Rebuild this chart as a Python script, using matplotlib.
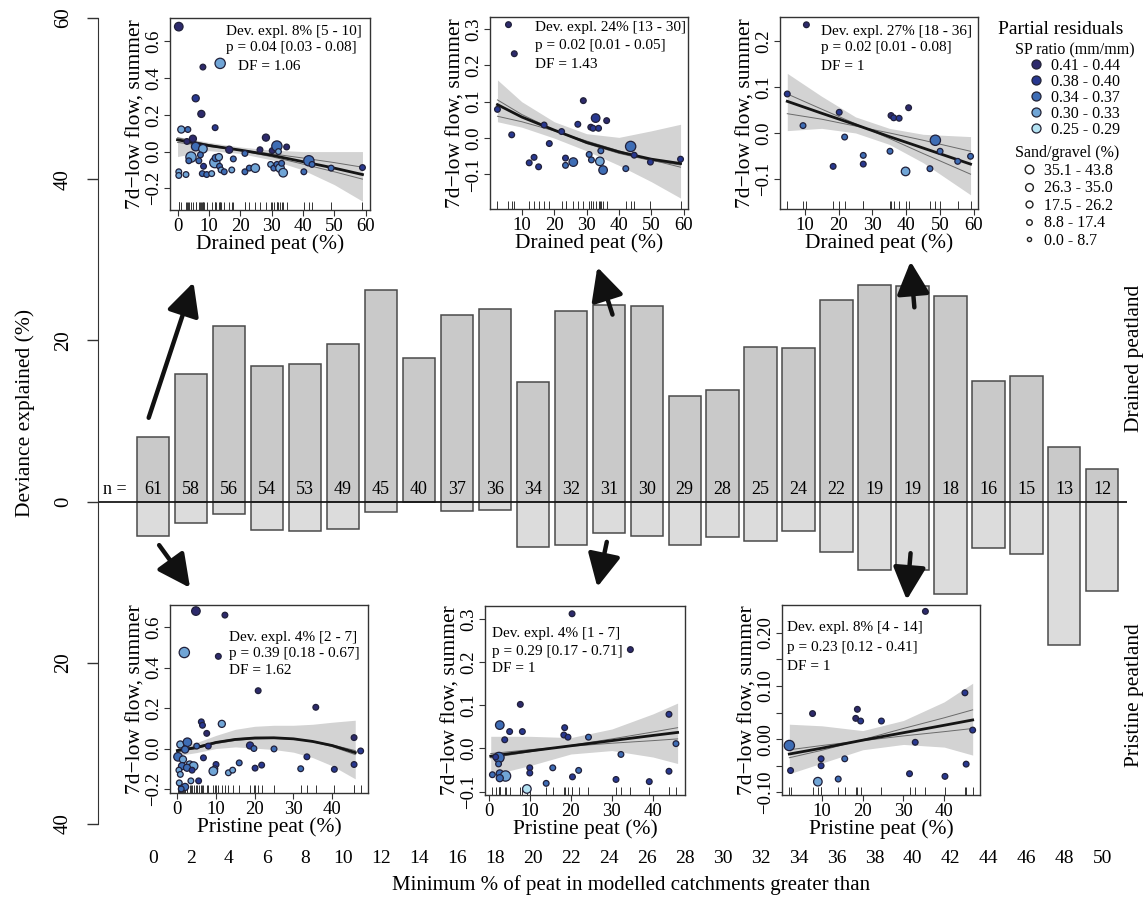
import matplotlib
matplotlib.use("Agg")
import matplotlib.pyplot as plt
from matplotlib.lines import Line2D

plt.rcParams['font.family'] = ['Liberation Serif', 'DejaVu Serif']

W, H = 1148, 898

# ---- main bar chart -------------------------------------------------------
thresholds = list(range(0, 52, 2))
n_catch = [61, 58, 56, 54, 53, 49, 45, 40, 37, 36, 34, 32, 31, 30, 29, 28,
           25, 24, 22, 19, 19, 18, 16, 15, 13, 12]
dev_drained = [8.0, 15.8, 21.8, 16.8, 17.1, 19.6, 26.2, 17.8, 23.2, 23.9, 14.9,
               23.7, 24.4, 24.3, 13.1, 13.9, 19.2, 19.1, 25.0, 26.9, 26.8, 25.5,
               15.0, 15.6, 6.8, 4.0]
dev_pristine = [4.3, 2.7, 1.6, 3.5, 3.7, 3.4, 1.3, 0.1, 1.2, 1.1, 5.6, 5.4, 3.9,
                4.3, 5.4, 4.4, 4.9, 3.7, 6.2, 8.5, 8.5, 11.5, 5.7, 6.5, 17.8, 11.1]
ytick_vals = [-40, -20, 0, 20, 40, 60]
ytick_text = ['40', '20', '0', '20', '40', '60']

# legend classes
sp_labels = ['0.41 - 0.44', '0.38 - 0.40', '0.34 - 0.37', '0.30 - 0.33', '0.25 - 0.29']
sp_colors = ['#2d2a6c', '#283890', '#3e6db5', '#70a5d6', '#b3e2f2']
sand_labels = ['35.1 - 43.8', '26.3 - 35.0', '17.5 - 26.2', '8.8 - 17.4', '0.0 - 8.7']
sand_ms = [6.2, 5.6, 5.0, 4.0, 3.0]
size_area = [10, 17, 26, 38, 55]   # scatter area per sand/gravel class (small -> large)

# ---- top-left: drained, all catchments (n = 61) ---------------------------
t1_x = [0.4, 8.1, 13.6, 5.8, 7.6, 12.0, 1.2, 3.3, 3.0, 4.9, 5.8, 8.1, 7.3, 4.3,
        3.6, 6.8, 8.3, 0.4, 0.4, 2.7, 7.9, 9.3, 10.9, 11.9, 12.2, 13.2, 13.4,
        13.9, 14.9, 16.5, 17.8, 17.3, 21.5, 21.5, 22.9, 24.8, 26.3, 28.2, 29.7,
        30.2, 30.7, 31.7, 32.2, 31.7, 32.7, 33.7, 34.8, 33.2, 40.3, 41.9, 42.9,
        49.0, 59.0]
t1_y = [0.68, 0.46, 0.48, 0.29, 0.205, 0.13, 0.12, 0.12, 0.055, 0.07, 0.027,
        0.015, -0.018, -0.03, -0.05, -0.05, -0.08, -0.11, -0.13, -0.125, -0.12,
        -0.125, -0.12, -0.06, -0.035, -0.03, -0.08, -0.10, -0.11, 0.01, -0.04,
        -0.10, -0.01, -0.11, -0.09, -0.09, 0.01, 0.076, -0.07, 0.005, -0.09,
        0.03, 0.0, -0.07, -0.09, -0.115, 0.025, -0.064, -0.11, -0.05, -0.07,
        -0.09, -0.087]
t1_col = [0, 0, 3, 1, 0, 1, 3, 2, 0, 0, 2, 3, 2, 3, 2, 2, 1, 3, 3, 3, 2, 2, 3, 3,
          2, 3, 2, 3, 2, 0, 2, 3, 2, 2, 2, 3, 0, 0, 3, 0, 2, 2, 3, 2, 3, 3, 0, 2,
          2, 2, 2, 2, 1]
t1_size = [3, 1, 4, 2, 2, 1, 2, 1, 1, 2, 3, 3, 1, 4, 1, 1, 1, 1, 1, 1, 1, 1, 1, 4,
           2, 2, 1, 1, 1, 2, 1, 1, 1, 1, 1, 3, 1, 2, 1, 1, 1, 4, 1, 1, 3, 3, 1, 1,
           1, 4, 1, 1, 1]
t1_fx = [0, 10, 20, 30, 40, 50, 59]
t1_fit = [0.064, 0.033, 0.008, -0.02, -0.055, -0.09, -0.125]
t1_lo = [-0.027, 0.005, -0.01, -0.045, -0.10, -0.18, -0.27]
t1_hi = [0.082, 0.05, 0.025, 0.008, 0.0, 0.0, 0.0]
t1_alt_a = [0.05, 0.028, 0.008, -0.012, -0.035, -0.06, -0.085]
t1_alt_b = [0.075, 0.038, 0.006, -0.028, -0.068, -0.11, -0.15]

# ---- top-middle: drained, peat > 24 % (n = 31) -----------------------------
t2_x = [5.9, 7.7, 2.5, 6.9, 16.9, 18.5, 12.3, 13.8, 15.2, 22.3, 23.5, 23.5, 25.9,
        27.3, 29.0, 30.8, 31.5, 31.3, 32.0, 32.8, 33.7, 34.4, 34.1, 35.1, 36.2,
        42.1, 43.6, 44.7, 49.7, 59.0]
t2_y = [0.312, 0.232, 0.079, 0.009, 0.036, -0.015, -0.068, -0.053, -0.079, 0.018,
        -0.055, -0.075, -0.066, 0.038, 0.103, -0.045, -0.06, 0.03, 0.027, 0.055,
        0.027, -0.035, -0.064, -0.088, 0.048, -0.084, -0.023, -0.047, -0.066,
        -0.058]
t2_col = [0, 0, 1, 1, 1, 1, 1, 1, 1, 1, 1, 2, 2, 1, 0, 2, 2, 0, 1, 1, 1, 2, 3, 2,
          0, 2, 2, 1, 1, 1]
t2_size = [1, 1, 1, 1, 1, 1, 1, 1, 1, 1, 1, 1, 3, 1, 1, 1, 1, 1, 1, 3, 1, 1, 3, 3,
           1, 1, 4, 1, 1, 1]
t2_fx = [2.5, 10, 20, 30, 40, 50, 59]
t2_fit = [0.092, 0.058, 0.022, -0.012, -0.038, -0.058, -0.07]
t2_lo = [0.045, 0.03, 0.0, -0.035, -0.075, -0.12, -0.165]
t2_hi = [0.16, 0.10, 0.045, 0.012, 0.002, 0.02, 0.038]
t2_alt_a = [0.105, 0.065, 0.022, -0.015, -0.042, -0.062, -0.074]
t2_alt_b = [0.06, 0.045, 0.02, -0.008, -0.035, -0.06, -0.08]

# ---- top-right: drained, peat > 40 % (n = 19) ------------------------------
t3_x = [10.5, 4.85, 9.5, 20.2, 21.8, 18.4, 27.3, 27.3, 35.2, 35.5, 36.3, 37.9,
        40.7, 39.8, 47.0, 48.6, 50.0, 55.2, 59.0]
t3_y = [0.236, 0.085, 0.016, 0.045, -0.009, -0.073, -0.049, -0.068, -0.04, 0.038,
        0.033, 0.032, 0.055, -0.084, -0.078, -0.016, -0.04, -0.062, -0.051]
t3_col = [0, 1, 2, 1, 2, 1, 2, 1, 2, 0, 1, 1, 0, 3, 2, 2, 2, 2, 2]
t3_size = [1, 1, 1, 1, 1, 1, 1, 1, 1, 1, 1, 1, 1, 3, 1, 4, 1, 1, 1]
t3_fx = [4.85, 15, 25, 35, 45, 59]
t3_fit = [0.069, 0.043, 0.018, -0.008, -0.033, -0.068]
t3_lo = [0.005, 0.01, 0.0, -0.025, -0.065, -0.135]
t3_hi = [0.13, 0.08, 0.035, 0.01, -0.003, -0.008]
t3_alt_a = [0.085, 0.052, 0.02, -0.012, -0.045, -0.09]
t3_alt_b = [0.042, 0.03, 0.015, 0.0, -0.016, -0.04]

# ---- bottom-left: pristine, all catchments ---------------------------------
b1_x = [4.8, 12.3, 1.8, 10.6, 20.9, 35.8, 6.2, 11.5, 6.5, 7.6, 0.77, 2.6, 2.0, 5.0,
        8.0, 0.17, 1.45, 3.2, 4.2, 1.2, 0.4, 0.77, 2.5, 3.8, 6.75, 10.0, 9.7, 9.3,
        13.2, 14.3, 16.0, 18.8, 19.8, 20.1, 21.8, 25.0, 31.9, 33.5, 40.6, 45.7,
        47.4, 45.7, 0.5, 2.0, 3.5, 1.0, 5.5]
b1_y = [0.68, 0.66, 0.475, 0.456, 0.286, 0.204, 0.132, 0.122, 0.115, 0.075, 0.02,
        0.031, -0.005, 0.012, 0.012, -0.041, -0.054, -0.079, -0.087, -0.087,
        -0.107, -0.128, -0.095, -0.107, -0.046, -0.079, -0.10, -0.112, -0.12,
        -0.107, -0.071, 0.015, 0.0, -0.097, -0.082, -0.002, -0.10, -0.041, -0.103,
        0.054, -0.012, -0.079, -0.17, -0.19, -0.16, -0.20, -0.16]
b1_col = [0, 0, 3, 0, 0, 0, 1, 3, 1, 0, 3, 2, 2, 2, 1, 2, 3, 3, 3, 2, 3, 3, 2, 1,
          1, 1, 2, 3, 3, 3, 2, 1, 2, 1, 1, 2, 2, 1, 1, 0, 1, 1, 3, 2, 3, 2, 1]
b1_size = [3, 1, 4, 1, 1, 1, 1, 2, 1, 1, 2, 3, 2, 1, 1, 3, 2, 2, 3, 2, 1, 1, 2, 1,
           1, 1, 1, 3, 1, 1, 1, 2, 1, 1, 1, 1, 1, 1, 1, 1, 1, 1, 1, 2, 1, 1, 1]
b1_fx = [0, 5, 10, 15, 20, 25, 30, 35, 40, 46]
b1_fit = [-0.01, 0.005, 0.03, 0.045, 0.052, 0.053, 0.048, 0.035, 0.015, -0.02]
b1_lo = [-0.035, -0.02, 0.0, 0.008, 0.002, -0.005, -0.018, -0.045, -0.085, -0.15]
b1_hi = [0.015, 0.03, 0.065, 0.095, 0.11, 0.115, 0.115, 0.12, 0.13, 0.14]
b1_alt_a = [-0.015, 0.0, 0.025, 0.04, 0.048, 0.05, 0.046, 0.035, 0.018, -0.01]
b1_alt_b = [-0.005, 0.01, 0.033, 0.048, 0.055, 0.055, 0.048, 0.033, 0.01, -0.03]

# ---- bottom-middle: pristine, peat > 24 % ----------------------------------
b2_x = [20.3, 34.5, 7.7, 43.9, 2.7, 5.1, 3.9, 8.2, 18.5, 18.3, 19.3, 24.3, 45.6,
        2.5, 1.7, 2.4, 32.2, 10.0, 10.0, 15.6, 21.9, 43.9, 0.9, 2.7, 4.1, 2.7,
        20.4, 31.0, 39.1, 9.3, 14.0]
b2_y = [0.312, 0.229, 0.102, 0.079, 0.054, 0.039, 0.02, 0.039, 0.048, 0.031, 0.026,
        0.026, 0.011, -0.021, -0.02, -0.036, -0.014, -0.045, -0.057, -0.045,
        -0.051, -0.053, -0.061, -0.058, -0.064, -0.069, -0.066, -0.072, -0.077,
        -0.094, -0.081]
b2_col = [0, 0, 0, 1, 2, 1, 1, 1, 1, 1, 1, 2, 2, 2, 1, 2, 2, 1, 1, 2, 2, 1, 2, 2,
          3, 2, 1, 1, 1, 4, 2]
b2_size = [1, 1, 1, 1, 3, 1, 1, 1, 1, 1, 1, 1, 1, 4, 1, 1, 1, 1, 1, 1, 1, 1, 1, 2,
           4, 2, 1, 1, 1, 3, 1]
b2_fx = [0.5, 10, 20, 30, 40, 46]
b2_fit = [-0.018, -0.006, 0.006, 0.018, 0.030, 0.037]
b2_lo = [-0.062, -0.04, -0.013, -0.005, -0.02, -0.035]
b2_hi = [0.028, 0.028, 0.025, 0.045, 0.08, 0.105]
b2_alt_a = [-0.022, -0.008, 0.007, 0.022, 0.038, 0.048]
b2_alt_b = [-0.012, -0.003, 0.005, 0.012, 0.018, 0.022]

# ---- bottom-right: pristine, peat > 40 % -----------------------------------
b3_x = [35.4, 7.7, 18.7, 18.3, 19.5, 24.6, 2.0, 32.9, 9.8, 9.8, 15.6, 2.3, 9.0,
        14.0, 31.5, 40.2, 45.1, 47.0, 45.4]
b3_y = [0.24, 0.048, 0.056, 0.039, 0.034, 0.034, -0.012, -0.006, -0.037, -0.05,
        -0.037, -0.059, -0.08, -0.075, -0.065, -0.07, 0.087, 0.017, -0.047]
b3_col = [0, 0, 0, 0, 1, 1, 2, 1, 1, 1, 2, 1, 3, 2, 1, 1, 1, 1, 1]
b3_size = [1, 1, 1, 1, 1, 1, 4, 1, 1, 1, 1, 1, 3, 1, 1, 1, 1, 1, 1]
b3_fx = [2, 10, 20, 30, 40, 47]
b3_fit = [-0.028, -0.017, -0.002, 0.012, 0.026, 0.036]
b3_lo = [-0.065, -0.045, -0.02, -0.01, -0.015, -0.03]
b3_hi = [0.028, 0.025, 0.016, 0.035, 0.07, 0.105]
b3_alt_a = [-0.035, -0.021, -0.001, 0.02, 0.04, 0.055]
b3_alt_b = [-0.02, -0.012, -0.003, 0.006, 0.014, 0.02]


def fx(p):
    return p / W


def fy(p):
    return 1 - p / H


fig = plt.figure(figsize=(W / 100, H / 100), dpi=100)

# main axes: x in % threshold, y in deviance explained
ax = fig.add_axes([fx(98), fy(824), (1127 - 98) / W, (824 - 18) / H])
ax.patch.set_alpha(0)
ax.set_xlim(-2.9, 51.3)
ax.set_ylim(-40, 60)
ax.bar(thresholds, dev_drained, width=1.7, color='#c9c9c9', edgecolor='#4a4a4a', lw=1.1)
ax.bar(thresholds, [-v for v in dev_pristine], width=1.7, color='#dcdcdc',
       edgecolor='#4a4a4a', lw=1.1)
ax.axhline(0, color='#1a1a1a', lw=1.3)
for x, n in zip(thresholds, n_catch):
    ax.text(x, 1.5, str(n), ha='center', va='center', fontsize=13)
ax.text(-2.0, 1.5, 'n =', ha='center', va='center', fontsize=13)

for s in ['top', 'right', 'bottom']:
    ax.spines[s].set_visible(False)
ax.spines['left'].set_bounds(-40, 60)
ax.spines['left'].set_color('#333333')
ax.set_yticks(ytick_vals)
ax.set_yticklabels(ytick_text, rotation=90, va='center')
ax.set_xticks(thresholds)
ax.set_xticklabels([str(t) for t in thresholds])
ax.tick_params(axis='y', length=8, width=1, pad=10, labelsize=15, color='#333333')
ax.tick_params(axis='x', length=0, pad=19, labelsize=14)

fig.text(fx(631), fy(885), 'Minimum % of peat in modelled catchments greater than',
         ha='center', va='center', fontsize=15)
fig.text(fx(25), fy(413), 'Deviance explained (%)', rotation=90,
         ha='center', va='center', fontsize=15.5)
fig.text(fx(1135), fy(358), 'Drained peatland', rotation=90,
         ha='center', va='center', fontsize=15.5)
fig.text(fx(1135), fy(695), 'Pristine peatland', rotation=90,
         ha='center', va='center', fontsize=15.5)

# arrows from bars to insets (start, tip) in main-axis units
arrows = [((-0.23, 10.4), (2.13, 27.2)), ((24.2, 23.2), (23.4, 29.1)),
          ((40.1, 24.1), (39.9, 29.8)), ((0.32, -5.4), (1.95, -10.7)),
          ((23.9, -5.0), (23.4, -10.6)), ((39.9, -6.4), (39.7, -12.2))]
for start, tip in arrows:
    ax.annotate('', xy=tip, xytext=start,
                arrowprops=dict(arrowstyle='-|>,head_length=1.0,head_width=0.5',
                                mutation_scale=20, lw=3.2, color='#111111',
                                shrinkA=0, shrinkB=0))


def panel(box, xs, ys, cols, sizes, fit_x, fit, lo, hi, alts, xlim, ylim,
          xticks, yticks, ylabels, xlabel, stats, stats_pos):
    left, top, right, bottom = box
    a = fig.add_axes([fx(left), fy(bottom), (right - left) / W, (bottom - top) / H])
    a.fill_between(fit_x, lo, hi, color='#d3d3d3', lw=0, zorder=1)
    for alt in alts:
        a.plot(fit_x, alt, color='#6a6a6a', lw=0.7, zorder=2)
    a.plot(fit_x, fit, color='#151515', lw=2.0, zorder=3)
    a.scatter(xs, ys, s=[size_area[k] for k in sizes],
              c=[sp_colors[k] for k in cols], edgecolors='#20203a',
              linewidths=0.9, zorder=4)
    a.vlines(xs, 0, 0.04, transform=a.get_xaxis_transform(),
             color='#333333', lw=0.7, zorder=2)
    a.set_xlim(xlim)
    a.set_ylim(ylim)
    a.set_xticks(xticks)
    a.set_yticks(yticks)
    a.set_yticklabels(ylabels, rotation=90, va='center')
    a.tick_params(direction='out', length=4, width=0.8, pad=1.5, labelsize=13.5,
                  color='#333333')
    a.set_xlabel(xlabel, fontsize=15.5, labelpad=0)
    a.set_ylabel('7d\u2212low flow, summer', fontsize=15.5, labelpad=0)
    for sp in a.spines.values():
        sp.set_color('#333333')
        sp.set_linewidth(1.0)
    for line, (x, y) in zip(stats, stats_pos):
        fig.text(fx(x), fy(y), line, fontsize=11, ha='left', va='center')
    return a


panel((170, 18, 370, 210), t1_x, t1_y, t1_col, t1_size, t1_fx, t1_fit, t1_lo, t1_hi,
      [t1_alt_a, t1_alt_b], (-2.4, 61.4), (-0.318, 0.727), range(0, 70, 10),
      [-0.2, 0.0, 0.2, 0.4, 0.6], ['\u22120.2', '0.0', '0.2', '0.4', '0.6'],
      'Drained peat (%)',
      ['Dev. expl. 8% [5 - 10]', 'p = 0.04 [0.03 - 0.08]', 'DF = 1.06'],
      [(226, 31), (226, 48), (238, 66)])

panel((490, 17, 688, 209), t2_x, t2_y, t2_col, t2_size, t2_fx, t2_fit, t2_lo, t2_hi,
      [t2_alt_a, t2_alt_b], (0.2, 61.3), (-0.195, 0.333), range(10, 70, 10),
      [-0.1, 0.0, 0.1, 0.2, 0.3], ['\u22120.1', '0.0', '0.1', '0.2', '0.3'],
      'Drained peat (%)',
      ['Dev. expl. 24% [13 - 30]', 'p = 0.02 [0.01 - 0.05]', 'DF = 1.43'],
      [(535, 28), (535, 46), (535, 64)])

panel((780, 17, 978, 209), t3_x, t3_y, t3_col, t3_size, t3_fx, t3_fit, t3_lo, t3_hi,
      [t3_alt_a, t3_alt_b], (2.7, 61.2), (-0.166, 0.253), range(10, 70, 10),
      [-0.1, 0.0, 0.1, 0.2], ['\u22120.1', '0.0', '0.1', '0.2'],
      'Drained peat (%)',
      ['Dev. expl. 27% [18 - 36]', 'p = 0.02 [0.01 - 0.08]', 'DF = 1'],
      [(821, 31), (821, 48), (821, 67)])

panel((170, 605, 368, 793), b1_x, b1_y, b1_col, b1_size, b1_fx, b1_fit, b1_lo, b1_hi,
      [b1_alt_a, b1_alt_b], (-1.9, 49.3), (-0.22, 0.71), range(0, 50, 10),
      [-0.2, 0.0, 0.2, 0.4, 0.6], ['\u22120.2', '0.0', '0.2', '0.4', '0.6'],
      'Pristine peat (%)',
      ['Dev. expl. 4% [2 - 7]', 'p = 0.39 [0.18 - 0.67]', 'DF = 1.62'],
      [(229, 637), (229, 654), (229, 671)])

panel((485, 606, 685, 795), b2_x, b2_y, b2_col, b2_size, b2_fx, b2_fit, b2_lo, b2_hi,
      [b2_alt_a, b2_alt_b], (-0.9, 47.8), (-0.108, 0.33), range(0, 50, 10),
      [-0.1, 0.0, 0.1, 0.2, 0.3], ['\u22120.1', '0.0', '0.1', '0.2', '0.3'],
      'Pristine peat (%)',
      ['Dev. expl. 4% [1 - 7]', 'p = 0.29 [0.17 - 0.71]', 'DF = 1'],
      [(492, 633), (492, 651), (492, 669)])

panel((782, 605, 980, 795), b3_x, b3_y, b3_col, b3_size, b3_fx, b3_fit, b3_lo, b3_hi,
      [b3_alt_a, b3_alt_b], (0.2, 48.8), (-0.105, 0.252), range(10, 50, 10),
      [-0.10, -0.05, 0.0, 0.05, 0.10, 0.15, 0.20],
      ['\u22120.10', '', '0.00', '', '0.10', '', '0.20'],
      'Pristine peat (%)',
      ['Dev. expl. 8% [4 - 14]', 'p = 0.23 [0.12 - 0.41]', 'DF = 1'],
      [(787, 628), (787, 647), (787, 667)])

# legend
fig.text(fx(1061), fy(30), 'Partial residuals', ha='center', va='center', fontsize=14)
col_handles = [Line2D([], [], ls='', marker='o', ms=6.5, mfc=c, mec='#222233', mew=0.9)
               for c in sp_colors]
fig.legend(col_handles, sp_labels, loc='upper left', bbox_to_anchor=(fx(1015), fy(42)),
           title='SP ratio (mm/mm)', title_fontsize=11.5, fontsize=11.5,
           frameon=False, handlelength=0.9, handletextpad=0.5, labelspacing=0.0,
           borderpad=0, borderaxespad=0)
size_handles = [Line2D([], [], ls='', marker='o', ms=m, mfc='white', mec='#222222', mew=1.0)
                for m in sand_ms]
fig.legend(size_handles, sand_labels, loc='upper left', bbox_to_anchor=(fx(1015), fy(145)),
           title='Sand/gravel (%)', title_fontsize=11.5, fontsize=11.5,
           frameon=False, handlelength=0.9, handletextpad=0.5, labelspacing=0.1,
           borderpad=0, borderaxespad=0)

fig.savefig('out.png', dpi=100)
